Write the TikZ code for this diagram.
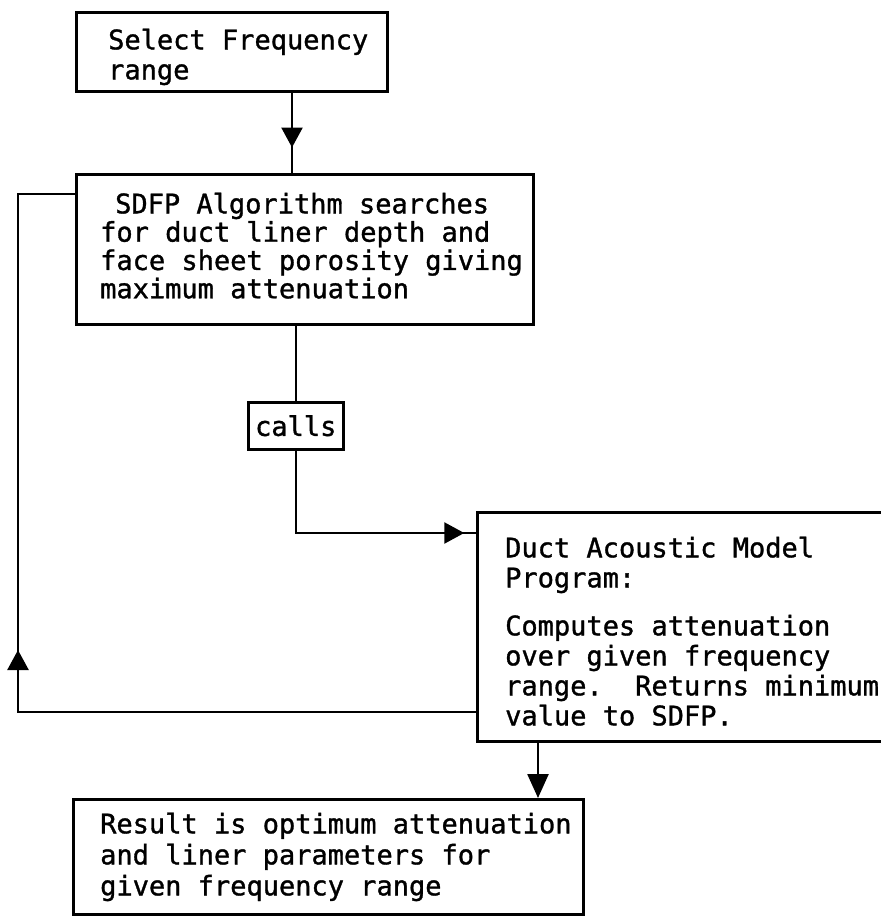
\documentclass[tikz,border=0pt]{standalone}
\usepackage{fontspec}
\setmonofont[FakeBold=1.2]{DejaVu Sans Mono}
\usetikzlibrary{arrows.meta,decorations.markings}
\begin{document}
\begin{tikzpicture}[x=1pt,y=-1pt,
  box/.style={draw, line width=2.5pt, inner sep=0pt, anchor=north west},
  txt/.style={anchor=north west, inner sep=0pt, align=left},
  conn/.style={line width=2.5pt},
  tipat/.style={postaction={decorate}, decoration={markings,
      mark=at position #1 with {\arrow{Triangle[length=20pt,width=21pt]}}}}]
\useasboundingbox (0,0) rectangle (881,916);
\tikzset{every node/.append style={font=\ttfamily\fontsize{27}{30}\selectfont}}

% boxes
\node[box, minimum width=311pt, minimum height=79pt] (b1) at (75,11) {};
\node[box, minimum width=457pt, minimum height=150pt] (b2) at (75,173) {};
\node[box, minimum width=95pt, minimum height=47pt] (calls) at (247,401) {calls};
\node[box, minimum width=430pt, minimum height=229pt] (dk) at (476,511) {};
\node[box, minimum width=510pt, minimum height=115pt] (res) at (72,798) {};

% texts
\node[txt] (t1) at (108,28.5) {Select Frequency\\range};
\node[txt, font=\ttfamily\fontsize{27}{28.3}\selectfont] (t2) at (100,192.5)
  {\hspace*{15pt}SDFP Algorithm searches\\for duct liner depth and\\face sheet porosity giving\\maximum attenuation};
\node[txt] (t3) at (505,536.5)
  {Duct Acoustic Model\\Program:\\[18pt]Computes attenuation\\over given frequency\\range.~~Returns minimum\\value to SDFP.};
\node[txt, font=\ttfamily\fontsize{27}{31}\selectfont] (t4) at (100,812.5)
  {Result is optimum attenuation\\and liner parameters for\\given frequency range};

% connectors
\coordinate (a1) at (292,0);
\draw[conn, tipat=55pt] (b1.south -| a1) -- (b2.north -| a1);

\draw[conn] (b2.south -| calls.north) -- (calls.north);

\coordinate (ct) at ([yshift=-22pt]dk.north west);
\draw[conn, tipat=251pt] (calls.south) |- (ct);

\coordinate (fb) at (18,712);
\coordinate (fbt) at ([yshift=-21pt]b2.north west);
\draw[conn, tipat=520pt] (dk.west |- fb) -- (fb) -- (fb |- fbt) -- (fbt);

\coordinate (a3) at (538,0);
\draw[conn, -{Triangle[length=24pt,width=21pt]}] (dk.south -| a3) -- (res.north -| a3);
\end{tikzpicture}
\end{document}
